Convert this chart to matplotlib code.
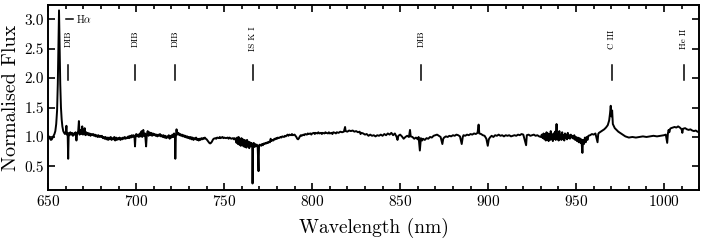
import numpy as np
import matplotlib
matplotlib.use('Agg')
import matplotlib.pyplot as plt
from matplotlib.ticker import MultipleLocator, FormatStrFormatter

# setting the figure
plt.rcParams['font.family'] = 'serif'
plt.rcParams['font.serif'] = ['cmr10']
plt.rcParams['mathtext.fontset'] = 'cm'
plt.rcParams['axes.formatter.use_mathtext'] = True
plt.rcParams['axes.linewidth'] = 1.4

# spectrum (wavelength in nm, normalised flux)
wave = [
    650.0, 650.5, 651.0, 651.5, 652.0, 652.5, 653.0, 653.5, 654.0, 654.5,
    655.0, 655.4, 655.8, 656.1, 656.4, 656.8, 657.2, 657.6, 658.0, 658.5,
    659.0, 659.5, 660.0, 660.3, 660.6, 661.0, 661.3, 661.6, 662.0, 662.5,
    663.0, 663.5, 664.0, 664.5, 665.0, 665.5, 666.0, 666.4, 667.0, 667.4,
    667.8, 668.3, 668.8, 669.3, 669.7, 670.2, 670.7, 671.1, 671.6, 672.0,
    672.5, 673.0, 673.5, 674.0, 674.5, 675.0, 675.5, 676.0, 676.5, 677.0,
    677.5, 678.0, 678.5, 679.0, 679.5, 680.0, 680.5, 681.0, 681.5, 682.0,
    682.5, 683.0, 683.5, 684.0, 684.5, 685.0, 685.5, 686.0, 686.5, 687.0,
    687.5, 688.0, 688.5, 689.0, 689.5, 690.0, 690.5, 691.0, 691.5, 692.0,
    692.5, 693.0, 693.5, 694.0, 694.5, 695.0, 695.5, 696.0, 696.5, 697.0,
    697.5, 698.0, 698.5, 699.0, 699.3, 699.6, 700.0, 700.5, 701.0, 701.5,
    702.0, 702.5, 703.0, 703.4, 704.0, 704.4, 705.0, 705.6, 706.0, 706.5,
    707.0, 707.5, 708.0, 708.5, 709.0, 709.5, 710.0, 710.5, 711.0, 711.5,
    712.0, 712.5, 713.0, 713.5, 714.0, 714.5, 715.0, 715.5, 716.0, 716.5,
    717.0, 717.5, 718.0, 718.5, 719.0, 719.5, 720.0, 720.5, 721.0, 721.5,
    722.0, 722.2, 722.5, 722.9, 723.3, 724.0, 724.5, 725.0, 725.5, 726.0,
    726.5, 727.0, 727.5, 728.0, 728.5, 729.0, 729.5, 730.0, 730.5, 731.0,
    731.5, 732.0, 732.5, 733.0, 733.5, 734.0, 734.5, 735.0, 735.5, 736.0,
    736.5, 737.0, 737.5, 738.0, 738.5, 739.0, 739.5, 740.0, 740.5, 741.0,
    741.5, 742.0, 742.5, 743.0, 743.5, 744.0, 745.0, 745.5, 746.0, 747.0,
    747.5, 748.0, 749.0, 749.5, 750.0, 751.0, 752.0, 752.5, 753.0, 754.0,
    755.0, 755.5, 756.0, 756.5, 757.0, 757.4, 757.8, 758.2, 758.6, 759.0,
    759.4, 759.8, 760.2, 760.6, 761.0, 761.4, 761.8, 762.2, 762.6, 763.0,
    763.4, 763.8, 764.2, 764.6, 765.0, 765.5, 765.9, 766.1, 766.4, 766.8,
    767.2, 767.6, 768.0, 768.5, 769.0, 769.5, 769.8, 770.3, 771.0, 771.5,
    772.0, 772.5, 773.0, 773.5, 774.0, 774.5, 775.0, 775.5, 776.0, 776.4,
    776.8, 777.5, 778.0, 778.5, 779.0, 779.5, 780.0, 780.5, 781.0, 782.0,
    782.5, 783.0, 784.0, 784.5, 785.0, 786.0, 786.5, 787.0, 788.0, 788.5,
    789.0, 790.0, 790.5, 791.0, 791.5, 792.0, 792.5, 793.0, 793.5, 794.0,
    795.0, 795.5, 796.0, 797.0, 797.5, 798.0, 799.0, 799.5, 800.0, 801.0,
    801.5, 802.0, 803.0, 803.5, 804.0, 805.0, 805.5, 806.0, 807.0, 807.5,
    808.0, 809.0, 809.5, 810.0, 811.0, 811.5, 812.0, 813.0, 813.5, 814.0,
    815.0, 816.0, 817.0, 818.0, 818.7, 819.0, 820.0, 821.0, 822.0, 823.0,
    824.0, 825.0, 826.0, 827.0, 827.5, 828.0, 829.0, 830.0, 831.0, 832.0,
    833.0, 834.0, 835.0, 836.0, 837.0, 838.0, 839.0, 840.0, 841.0, 842.0,
    843.0, 844.0, 845.0, 846.0, 847.0, 848.0, 848.5, 849.0, 850.0, 851.0,
    852.0, 853.0, 854.0, 855.0, 855.6, 856.0, 857.0, 858.0, 859.0, 860.0,
    860.5, 861.2, 861.8, 862.5, 863.0, 864.0, 865.0, 866.0, 867.0, 868.0,
    869.0, 870.0, 871.0, 872.0, 873.0, 874.0, 874.5, 875.0, 876.0, 877.0,
    878.0, 879.0, 880.0, 881.0, 882.0, 883.0, 884.0, 885.0, 885.6, 886.0,
    887.0, 888.0, 889.0, 890.0, 891.0, 892.0, 893.0, 894.0, 894.6, 895.0,
    896.0, 897.0, 898.0, 899.0, 899.8, 900.4, 901.0, 902.0, 903.0, 904.0,
    905.0, 906.0, 907.0, 908.0, 909.0, 910.0, 911.0, 912.0, 913.0, 914.0,
    915.0, 916.0, 917.0, 918.0, 919.0, 920.0, 921.6, 922.0, 923.0, 924.0,
    925.0, 926.0, 927.0, 928.0, 929.0, 930.0, 930.5, 931.0, 931.5, 932.0,
    932.4, 932.8, 933.2, 933.6, 934.0, 934.4, 934.8, 935.2, 935.6, 936.0,
    936.4, 936.8, 937.2, 937.6, 938.0, 938.4, 938.9, 939.3, 939.7, 940.1,
    940.5, 940.9, 941.3, 941.7, 942.1, 942.5, 942.9, 943.3, 943.7, 944.1,
    944.5, 944.9, 945.3, 945.7, 946.1, 946.5, 947.0, 947.5, 948.0, 948.5,
    949.0, 949.5, 950.0, 950.5, 951.0, 951.5, 952.0, 952.5, 953.0, 953.6,
    954.0, 954.5, 955.0, 955.5, 956.0, 956.5, 957.0, 958.0, 959.0, 960.0,
    961.0, 962.2, 962.6, 963.0, 964.0, 965.0, 966.0, 967.0, 968.0, 968.8,
    969.3, 969.7, 970.1, 970.5, 970.9, 971.5, 972.0, 973.0, 974.0, 975.0,
    976.0, 977.0, 978.0, 979.0, 980.0, 982.0, 984.0, 986.0, 988.0, 990.0,
    992.0, 994.0, 996.0, 998.0, 1000.0, 1001.0, 1001.8, 1002.2, 1002.6, 1003.0,
    1003.5, 1004.0, 1005.0, 1006.0, 1007.0, 1008.0, 1009.0, 1010.0, 1010.4, 1010.8,
    1012.0, 1013.0, 1014.0, 1015.0, 1016.0, 1017.0, 1018.0, 1019.0, 1020.0,
]
flux = [
    1.02, 1.00, 0.97, 0.95, 0.96, 0.99, 1.02, 1.05, 1.10, 1.22,
    1.45, 1.90, 2.60, 3.15, 2.60, 1.90, 1.50, 1.30, 1.18, 1.10,
    1.07, 1.05, 1.09, 1.19, 1.04, 1.07, 0.63, 1.06, 1.03, 1.08,
    1.04, 1.07, 1.02, 1.06, 1.04, 1.08, 0.94, 1.05, 1.10, 1.27,
    1.04, 1.12, 1.05, 1.18, 1.04, 1.09, 1.15, 1.03, 1.08, 1.04,
    1.07, 1.03, 1.06, 1.02, 1.05, 1.03, 1.05, 1.02, 1.04, 1.01,
    1.03, 1.00, 1.03, 1.00, 1.02, 1.00, 1.02, 0.98, 1.00, 0.97,
    1.00, 0.96, 0.99, 0.95, 0.99, 0.96, 1.00, 0.95, 0.98, 0.96,
    1.00, 0.94, 0.99, 0.95, 0.98, 0.96, 0.99, 0.95, 0.98, 0.96,
    0.99, 0.97, 1.00, 0.97, 0.99, 0.98, 1.01, 0.98, 1.02, 0.99,
    1.03, 1.00, 1.03, 1.00, 0.84, 1.02, 1.05, 1.01, 1.04, 1.00,
    1.06, 1.01, 1.10, 1.00, 1.12, 1.02, 1.06, 0.84, 1.04, 1.10,
    1.02, 1.08, 1.03, 1.07, 1.02, 1.06, 1.03, 1.05, 1.02, 1.04,
    1.01, 1.04, 1.02, 1.05, 1.01, 1.03, 1.00, 1.03, 0.99, 1.02,
    0.98, 1.01, 0.99, 1.03, 0.97, 1.02, 0.99, 1.04, 1.00, 1.06,
    0.98, 0.63, 1.00, 1.13, 1.04, 1.07, 1.03, 1.05, 1.02, 1.04,
    1.01, 1.03, 1.00, 1.02, 0.99, 1.01, 0.98, 1.00, 0.97, 1.00,
    0.96, 0.99, 0.95, 0.98, 0.96, 0.99, 0.95, 0.97, 0.94, 0.97,
    0.95, 0.98, 0.96, 0.98, 0.97, 0.99, 0.97, 0.96, 0.94, 0.92,
    0.90, 0.89, 0.90, 0.92, 0.95, 0.97, 0.98, 0.97, 0.99, 0.98,
    1.00, 0.98, 1.00, 0.98, 0.99, 0.98, 0.99, 0.97, 0.99, 0.97,
    0.98, 0.96, 0.98, 0.95, 0.90, 0.99, 0.88, 1.00, 0.87, 0.97,
    0.85, 0.98, 0.86, 0.96, 0.84, 0.95, 0.83, 0.94, 0.82, 0.95,
    0.84, 0.92, 0.81, 0.91, 0.84, 0.90, 0.85, 0.21, 0.86, 0.90,
    0.83, 0.88, 0.84, 0.87, 0.85, 0.42, 0.86, 0.87, 0.85, 0.88,
    0.86, 0.89, 0.88, 0.90, 0.89, 0.91, 0.90, 0.92, 0.91, 0.97,
    0.93, 0.95, 0.94, 0.97, 0.96, 0.98, 0.97, 0.99, 0.98, 1.00,
    0.99, 1.01, 1.00, 1.02, 1.01, 1.04, 1.02, 1.04, 1.03, 1.05,
    1.03, 1.04, 1.02, 1.00, 0.97, 0.96, 0.98, 1.01, 1.03, 1.02,
    1.04, 1.03, 1.05, 1.04, 1.06, 1.05, 1.06, 1.04, 1.06, 1.07,
    1.05, 1.07, 1.06, 1.08, 1.06, 1.07, 1.05, 1.07, 1.06, 1.08,
    1.07, 1.06, 1.08, 1.06, 1.07, 1.05, 1.08, 1.07, 1.06, 1.08,
    1.07, 1.09, 1.08, 1.09, 1.17, 1.10, 1.09, 1.11, 1.10, 1.11,
    1.09, 1.10, 1.08, 1.09, 1.05, 1.07, 1.06, 1.04, 1.05, 1.02,
    1.04, 1.02, 1.03, 1.01, 1.03, 1.02, 1.04, 1.02, 1.05, 1.03,
    1.06, 1.04, 1.07, 1.03, 1.06, 1.00, 0.95, 1.02, 1.04, 1.01,
    0.97, 1.00, 1.02, 1.00, 1.12, 1.01, 1.00, 0.97, 0.99, 0.96,
    1.00, 0.77, 0.98, 0.94, 0.97, 0.95, 0.98, 0.97, 1.00, 0.99,
    1.02, 1.03, 1.04, 1.02, 1.00, 0.88, 0.97, 0.99, 1.01, 1.00,
    1.02, 1.01, 1.03, 1.02, 1.04, 1.03, 1.01, 0.88, 1.00, 1.03,
    1.02, 1.04, 1.03, 1.05, 1.04, 1.06, 1.05, 1.07, 1.21, 1.06,
    1.05, 1.03, 1.02, 0.97, 0.85, 0.96, 0.99, 1.02, 1.00, 1.03,
    1.02, 1.04, 1.02, 1.03, 1.01, 1.03, 1.02, 1.03, 1.01, 1.02,
    1.03, 1.02, 1.04, 1.03, 1.05, 1.04, 0.86, 1.03, 1.04, 1.02,
    1.03, 1.04, 1.02, 1.03, 1.01, 1.00, 1.04, 0.98, 1.06, 0.96,
    1.05, 0.94, 1.08, 0.95, 1.06, 0.93, 1.05, 0.95, 1.10, 0.96,
    1.04, 0.93, 1.06, 0.97, 1.09, 0.95, 1.22, 0.96, 1.05, 0.94,
    1.10, 0.96, 1.04, 0.95, 1.08, 0.97, 1.03, 0.94, 1.06, 0.98,
    1.04, 0.96, 1.07, 0.98, 1.03, 0.97, 1.04, 0.99, 1.02, 0.97,
    1.03, 0.95, 1.00, 0.93, 0.99, 0.91, 0.98, 0.90, 0.96, 0.73,
    0.95, 0.88, 0.99, 0.91, 1.00, 0.95, 1.02, 1.03, 1.05, 1.04,
    1.06, 0.91, 1.05, 1.07, 1.09, 1.11, 1.13, 1.16, 1.20, 1.28,
    1.40, 1.53, 1.35, 1.45, 1.22, 1.18, 1.15, 1.12, 1.09, 1.07,
    1.05, 1.03, 1.01, 1.00, 0.99, 1.00, 0.99, 1.00, 1.01, 1.00,
    1.01, 1.02, 1.01, 1.02, 1.03, 1.04, 0.90, 1.06, 1.12, 1.08,
    1.14, 1.15, 1.16, 1.17, 1.16, 1.18, 1.16, 1.13, 1.07, 1.14,
    1.15, 1.13, 1.12, 1.13, 1.11, 1.10, 1.11, 1.09, 1.08,
]

# line identifications
line_wave = [661.3, 699.3, 722.2, 766.3, 862.0, 970.2, 1011.5]
line_name = ['DIB', 'DIB', 'DIB', 'IS K I', 'DIB', 'C III', 'He II']

fig = plt.figure(figsize=(7.06, 2.42), dpi=100)
ax = fig.add_axes([0.0684, 0.215, 0.922, 0.764])

ax.plot(wave, flux, color='k', lw=1.4)

for w, name in zip(line_wave, line_name):
    ax.plot([w, w], [1.97, 2.22], color='k', lw=1.1)
    ax.text(w, 2.66, name, rotation=90, ha='center', va='center', fontsize=6.5)

ax.plot([660.0, 664.2], [3.0, 3.0], color='k', lw=1.1)
ax.text(665.5, 3.0, r'H$\alpha$', ha='left', va='center', fontsize=7.5)

ax.set_xlim(650, 1020)
ax.set_ylim(0.1, 3.24)
ax.set_xlabel('Wavelength (nm)', fontsize=14, labelpad=6)
ax.set_ylabel('Normalised Flux', fontsize=14.5, labelpad=3)

# deco
ax.xaxis.set_major_locator(MultipleLocator(50))
ax.xaxis.set_minor_locator(MultipleLocator(10))
ax.yaxis.set_major_locator(MultipleLocator(0.5))
ax.yaxis.set_major_formatter(FormatStrFormatter('%.1f'))
ax.tick_params(direction='in', length=5, width=1.2, labelsize=11, top=True, right=True, pad=3)
ax.tick_params(direction='in', which='minor', length=3, width=1.2, top=True, right=True)

fig.savefig('out.png', dpi=100)
